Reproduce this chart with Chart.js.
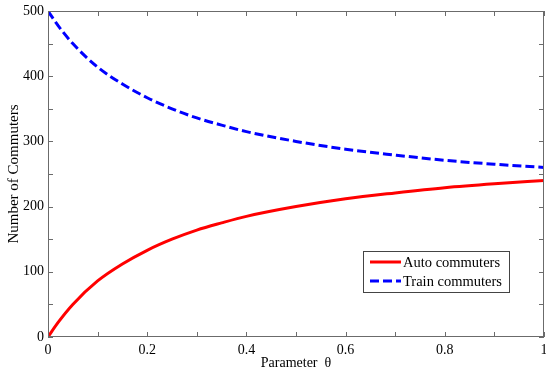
<!DOCTYPE html>
<html>
<head>
<meta charset="utf-8">
<script src="https://cdn.jsdelivr.net/npm/chart.js@4.4.0/dist/chart.umd.min.js"></script>
<style>
html,body{margin:0;padding:0;background:#fff;}
#wrap{width:546px;height:373px;}
</style>
</head>
<body>
<div id="wrap"><canvas id="myChart" width="546" height="373"></canvas></div>
<script>
// values
var theta          = [0, 0.02, 0.05, 0.1, 0.15, 0.2, 0.25, 0.3, 0.35, 0.4, 0.5, 0.6, 0.7, 0.8, 0.9, 1];
var autoCommuters  = [0, 22, 50, 86, 112, 133, 150, 164, 175, 185, 200, 212, 221, 229, 235, 240];
var trainCommuters = [500, 478, 450, 414, 388, 367, 350, 336, 325, 315, 300, 288, 279, 271, 265, 260];
var seriesNames    = ['Auto commuters', 'Train commuters'];
var xLabelTicks    = [0, 0.2, 0.4, 0.6, 0.8, 1];
var yLabelTicks    = [0, 100, 200, 300, 400, 500];

function pts(ys){
	var out=[];
	for (var i=0;i<theta.length;i++){ out.push({x:theta[i], y:ys[i]}); }
	return out;
}

var serif = "'Liberation Serif', 'Times New Roman', serif";
var axisColor = '#6b6b6b';

var boxTicks = {
	id: 'boxTicks',
	afterDatasetsDraw: function(chart){
		var ctx=chart.ctx, a=chart.chartArea, xs=chart.scales.x, ys=chart.scales.y;
		ctx.save();
		ctx.strokeStyle=axisColor;
		ctx.lineWidth=1;
		ctx.strokeRect(a.left+0.5, a.top+0.5, a.right-a.left-1, a.bottom-a.top-1);
		ctx.beginPath();
		xs.ticks.forEach(function(t){
			var px=Math.round(xs.getPixelForValue(t.value))+0.5;
			ctx.moveTo(px,a.bottom); ctx.lineTo(px,a.bottom-5);
			ctx.moveTo(px,a.top); ctx.lineTo(px,a.top+5);
		});
		ys.ticks.forEach(function(t){
			var py=Math.round(ys.getPixelForValue(t.value))+0.5;
			ctx.moveTo(a.left,py); ctx.lineTo(a.left+5,py);
			ctx.moveTo(a.right,py); ctx.lineTo(a.right-5,py);
		});
		ctx.stroke();

		// legend box
		var lx=363, ly=251, lw=146, lh=41;
		ctx.fillStyle='#fff';
		ctx.fillRect(lx,ly,lw,lh);
		ctx.strokeStyle='#444';
		ctx.strokeRect(lx+0.5,ly+0.5,lw,lh);
		ctx.font='14.5px '+serif;
		ctx.textBaseline='middle';
		chart.data.datasets.forEach(function(ds,i){
			var yy=ly+11+i*19;
			ctx.beginPath();
			ctx.strokeStyle=ds.borderColor;
			ctx.lineWidth=3;
			ctx.setLineDash(ds.borderDash || []);
			ctx.moveTo(lx+7,yy); ctx.lineTo(lx+38,yy);
			ctx.stroke();
			ctx.setLineDash([]);
			ctx.fillStyle='#000';
			ctx.fillText(ds.label, lx+40, yy+1);
		});
		ctx.restore();
	}
};

var ctx = document.getElementById('myChart').getContext('2d');
var myChart = new Chart(ctx, {
	type: 'line',
	data: {
		datasets: [{
			label: seriesNames[0],
			data: pts(autoCommuters),
			borderColor: '#ff0000',
			borderWidth: 3,
			pointRadius: 0,
			cubicInterpolationMode: 'monotone',
			fill: false
		},{
			label: seriesNames[1],
			data: pts(trainCommuters),
			borderColor: '#0000ff',
			borderWidth: 3,
			borderDash: [9,4],
			pointRadius: 0,
			cubicInterpolationMode: 'monotone',
			fill: false
		}]
	},
	options: {
		responsive: false,
		animation: false,
		layout: { padding: { left: 0, right: 2, top: 11, bottom: 0 } },
		plugins: {
			legend: { display: false },
			tooltip: { enabled: false }
		},
		scales: {
			x: {
				type: 'linear',
				min: 0, max: 1,
				grid: { display: false, drawTicks: false },
				border: { display: false },
				ticks: {
					stepSize: 0.1,
					padding: 5,
					maxRotation: 0,
					autoSkip: false,
					color: '#000',
					font: { family: serif, size: 14 },
					callback: function(v){
						var r=Math.round(v*10)/10;
						return xLabelTicks.indexOf(r)>=0 ? String(r) : '';
					}
				},
				title: {
					display: true,
					text: 'Parameter  \u03b8',
					color: '#000',
					font: { family: serif, size: 14 },
					padding: { top: 0, bottom: 1 }
				},
				afterFit: function(s){ s.height=36; s.paddingLeft=0; s.paddingRight=0; }
			},
			y: {
				min: 0, max: 500,
				grid: { display: false, drawTicks: false },
				border: { display: false },
				ticks: {
					stepSize: 50,
					padding: 4,
					autoSkip: false,
					color: '#000',
					font: { family: serif, size: 14 },
					callback: function(v){
						return yLabelTicks.indexOf(v)>=0 ? String(v) : '';
					}
				},
				title: {
					display: true,
					text: 'Number of Commuters',
					color: '#000',
					font: { family: serif, size: 15 },
					padding: { top: 5, bottom: 0 }
				},
				afterFit: function(s){ s.width=48; s.paddingTop=0; s.paddingBottom=0; }
			}
		}
	},
	plugins: [boxTicks]
});
</script>
</body>
</html>
